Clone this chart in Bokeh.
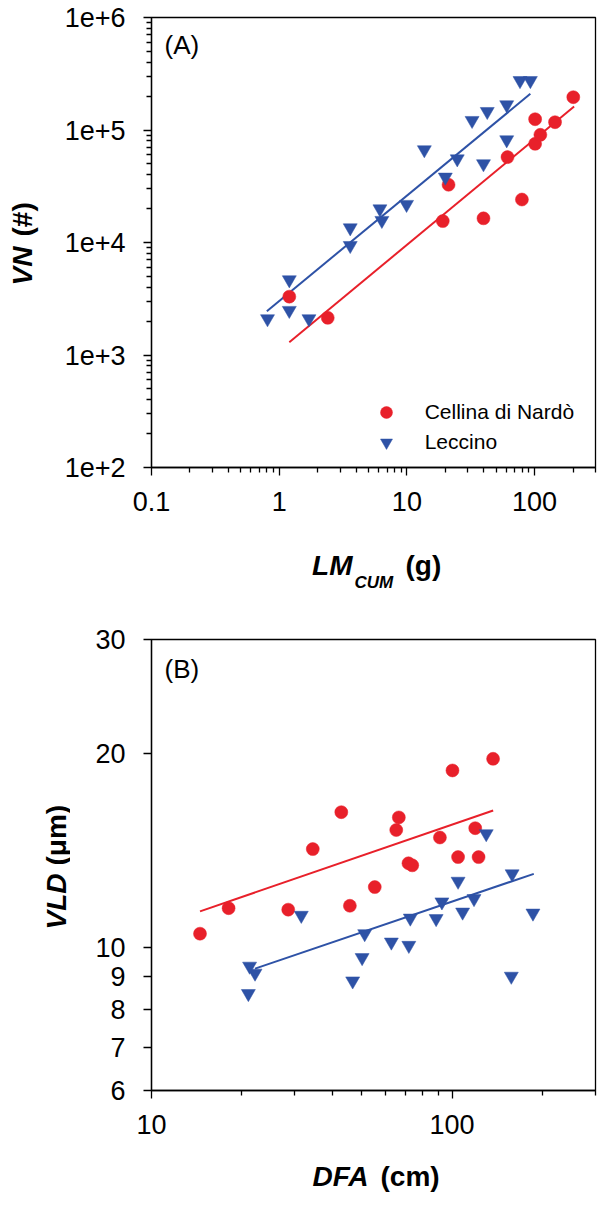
from math import pi
from bokeh.plotting import figure
from bokeh.layouts import column, row
from bokeh.models import (FixedTicker, CustomJSTickFormatter, Label, Legend,
                          LegendItem, Range1d)
from bokeh.embed import file_html
from bokeh.resources import INLINE

# ---------------- data: panel (A) ----------------
a_cellina_lm = [1.2, 2.4, 19.1, 21.2, 39.8, 61.4, 79.6, 101, 101, 111, 144.6, 201]
a_cellina_vn = [3300, 2140, 15500, 32600, 16400, 57400, 24100, 75400, 124700, 90600, 117300, 195800]
a_leccino_lm = [0.81, 1.2, 1.2, 1.71, 3.6, 3.6, 6.15, 6.37, 9.94, 13.7, 20.0, 24.8,
                32.4, 39.8, 42.6, 60.5, 60.5, 76.9, 92.7]
a_leccino_vn = [2100, 4660, 2490, 2100, 13500, 9400, 19900, 15700, 21800, 66700, 38100, 55400,
                121500, 50100, 146000, 167500, 81800, 275000, 275000]
# fitted power-law lines (ends)
a_cellina_fit_lm = [1.2, 204]
a_cellina_fit_vn = [1300, 161700]
a_leccino_fit_lm = [0.8, 92.7]
a_leccino_fit_vn = [2450, 209800]

# ---------------- data: panel (B) ----------------
b_cellina_dfa = [14.5, 18.05, 28.5, 34.4, 42.8, 45.7, 55.3, 65.2, 66.5, 71.6, 73.7, 91.1,
                 100.3, 104.7, 119.4, 122.5, 136.9]
b_cellina_vld = [10.5, 11.5, 11.44, 14.2, 16.2, 11.6, 12.4, 15.2, 15.9, 13.5, 13.4, 14.8,
                 18.8, 13.8, 15.3, 13.8, 19.6]
b_leccino_dfa = [21.0, 21.2, 22.1, 31.5, 46.7, 50.2, 51.2, 62.8, 71.8, 72.6, 88.5, 92.5,
                 104.7, 108.4, 118.3, 129.9, 157.4, 158.4, 185.8]
b_leccino_vld = [8.48, 9.35, 9.12, 11.21, 8.87, 9.64, 10.5, 10.19, 10.07, 11.1, 11.08, 11.76,
                 12.66, 11.34, 11.9, 15.0, 9.02, 13.0, 11.3]
b_cellina_fit_dfa = [14.5, 137]
b_cellina_fit_vld = [11.37, 16.3]
b_leccino_fit_dfa = [22.1, 187]
b_leccino_fit_vld = [9.27, 13.0]

# ---------------- ticks ----------------
a_x_major = [0.1, 1, 10, 100]
a_x_minor = [0.2, 0.3, 0.4, 0.5, 0.6, 0.7, 0.8, 0.9, 2, 3, 4, 5, 6, 7, 8, 9,
             20, 30, 40, 50, 60, 70, 80, 90, 200, 300]
a_y_major = [1e2, 1e3, 1e4, 1e5, 1e6]
a_y_minor = [m * d for d in (1e2, 1e3, 1e4, 1e5) for m in (2, 3, 4, 5, 6, 7, 8, 9)]
b_x_major = [10, 100]
b_x_minor = [20, 30, 40, 50, 60, 70, 80, 90, 200, 300]
b_y_major = [6, 7, 8, 9, 10, 20, 30]

series_names = ["Cellina di Nardò", "Leccino"]

RED = "#E8202A"
BLUE = "#2E52A6"
FONT = "Liberation Sans"


def style(p):
    for ax in (p.xaxis[0], p.yaxis[0]):
        ax.axis_line_color = "black"
        ax.axis_line_width = 1.3
        ax.major_tick_line_color = "black"
        ax.major_tick_line_width = 1.3
        ax.minor_tick_line_color = "black"
        ax.minor_tick_line_width = 1.3
        ax.major_tick_in = 0
        ax.major_tick_out = 8
        ax.minor_tick_in = 0
        ax.minor_tick_out = 5
        ax.major_label_text_font = FONT
        ax.major_label_text_font_size = "27px"
        ax.major_label_text_color = "black"
    p.xaxis[0].major_label_standoff = 16
    p.yaxis[0].major_label_standoff = 18
    p.xgrid.visible = False
    p.ygrid.visible = False
    p.outline_line_color = "black"
    p.outline_line_width = 1.3
    p.outline_line_alpha = 1.0


def lab(p, text, x, y, size, fstyle="normal", align="left", angle=0.0):
    p.add_layout(Label(x=x, y=y, x_units="screen", y_units="screen", text=text,
                       text_font=FONT, text_font_size=size, text_font_style=fstyle,
                       text_align=align, text_baseline="middle", angle=angle,
                       text_color="black"))


def title_box(w, h):
    t = figure(width=w, height=h, x_range=Range1d(0, 1), y_range=Range1d(0, 1),
               output_backend="svg", toolbar_location=None, min_border=0,
               x_axis_location=None, y_axis_location=None, frame_align=False)
    t.outline_line_color = None
    t.grid.visible = False
    return t


# ================= panel A =================
p1 = figure(width=552, height=530, x_axis_type="log", y_axis_type="log",
            x_range=Range1d(0.1, 300), y_range=Range1d(100, 1e6),
            output_backend="svg", toolbar_location=None, frame_align=False,
            min_border_left=106, min_border_right=2, min_border_top=17, min_border_bottom=63)
style(p1)
p1.xaxis[0].ticker = FixedTicker(ticks=a_x_major, minor_ticks=a_x_minor)
p1.yaxis[0].ticker = FixedTicker(ticks=a_y_major, minor_ticks=a_y_minor)
p1.xaxis[0].formatter = CustomJSTickFormatter(code="return String(tick);")
p1.yaxis[0].formatter = CustomJSTickFormatter(code="return tick.toExponential(0);")

p1.line(a_cellina_fit_lm, a_cellina_fit_vn, line_color=RED, line_width=2)
p1.line(a_leccino_fit_lm, a_leccino_fit_vn, line_color=BLUE, line_width=2)

r_c = p1.scatter(a_cellina_lm, a_cellina_vn, marker="circle", size=13,
                 fill_color=RED, line_color=RED, line_width=0.5)
r_l = p1.scatter(a_leccino_lm, a_leccino_vn, marker="inverted_triangle", size=14,
                 fill_color=BLUE, line_color=BLUE, line_width=0.5)

legend = Legend(items=[LegendItem(label=series_names[0], renderers=[r_c]),
                       LegendItem(label=series_names[1], renderers=[r_l])],
                location=(218.7, 10.3), glyph_width=32, glyph_height=30, spacing=0,
                padding=0, margin=0, label_standoff=23, label_height=30,
                border_line_alpha=0, background_fill_alpha=0,
                label_text_font=FONT, label_text_font_size="21px", label_text_color="black")
p1.add_layout(legend)
lab(p1, "(A)", 13, 423, "26px")

yt1 = title_box(45, 530)
lab(yt1, "VN", 21.5, 284, "28px", "bold italic", "right", pi / 2)
lab(yt1, "(#)", 21.5, 294, "28px", "bold", "left", pi / 2)

xt1 = title_box(597, 62)
lab(xt1, "LM", 352, 27, "28px", "bold italic", "right")
lab(xt1, "CUM", 354, 10, "17px", "bold italic", "left")
lab(xt1, "(g)", 405, 27, "28px", "bold", "left")

# ================= panel B =================
p2 = figure(width=527, height=563, x_axis_type="log", y_axis_type="log",
            x_range=Range1d(10, 300), y_range=Range1d(6, 30),
            output_backend="svg", toolbar_location=None, frame_align=False,
            min_border_left=81, min_border_right=2, min_border_top=47, min_border_bottom=65)
style(p2)
p2.xaxis[0].ticker = FixedTicker(ticks=b_x_major, minor_ticks=b_x_minor)
p2.yaxis[0].ticker = FixedTicker(ticks=b_y_major, minor_ticks=[])
p2.xaxis[0].formatter = CustomJSTickFormatter(code="return String(tick);")
p2.yaxis[0].formatter = CustomJSTickFormatter(code="return String(tick);")

p2.line(b_cellina_fit_dfa, b_cellina_fit_vld, line_color=RED, line_width=2)
p2.line(b_leccino_fit_dfa, b_leccino_fit_vld, line_color=BLUE, line_width=2)

p2.scatter(b_cellina_dfa, b_cellina_vld, marker="circle", size=13,
           fill_color=RED, line_color=RED, line_width=0.5)
p2.scatter(b_leccino_dfa, b_leccino_vld, marker="inverted_triangle", size=14,
           fill_color=BLUE, line_color=BLUE, line_width=0.5)
lab(p2, "(B)", 13, 422, "26px")

yt2 = title_box(70, 563)
lab(yt2, "VLD", 55.5, 282, "28px", "bold italic", "right", pi / 2)
lab(yt2, "(μm)", 55.5, 290, "28px", "bold", "left", pi / 2)

xt2 = title_box(597, 39)
lab(xt2, "DFA", 368, 18, "28px", "bold italic", "right")
lab(xt2, "(cm)", 380, 18, "28px", "bold", "left")

layout = column(row(yt1, p1, spacing=0), xt1, row(yt2, p2, spacing=0), xt2, spacing=0)
open("out.html", "w").write(file_html(layout, INLINE))
